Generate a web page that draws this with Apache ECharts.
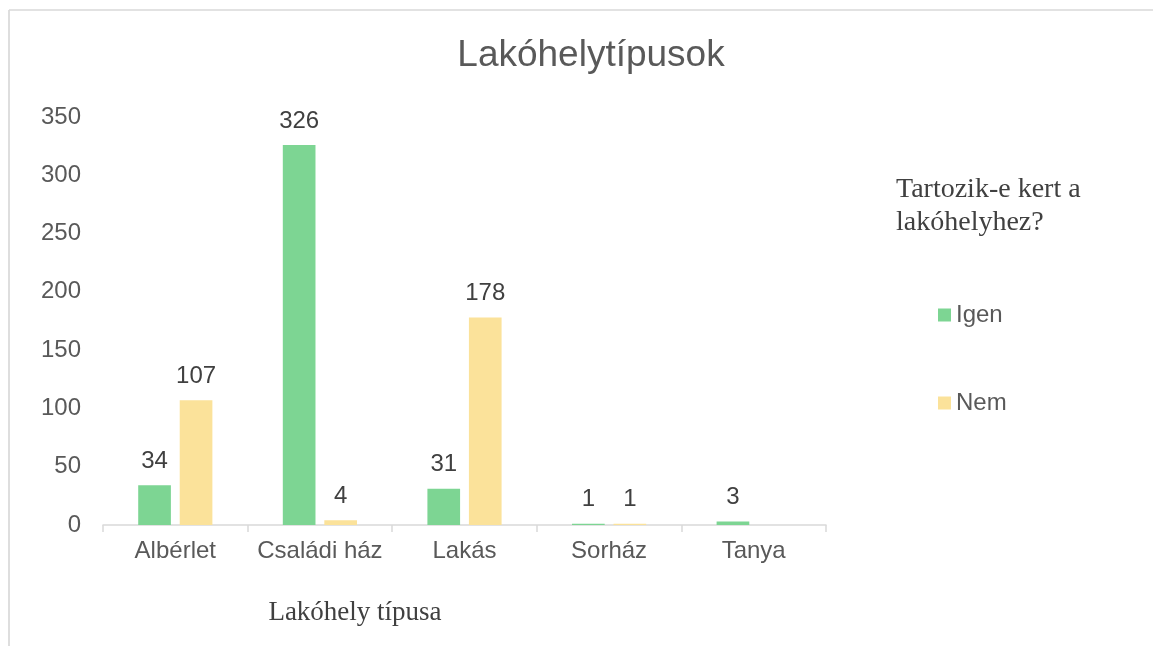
<!DOCTYPE html>
<html>
<head>
<meta charset="utf-8">
<title>Lakóhelytípusok</title>
<script src="https://cdn.jsdelivr.net/npm/echarts@6/dist/echarts.min.js"></script>
<style>
html, body { margin: 0; padding: 0; background: #fff; }
#chart { width: 1153px; height: 646px; }
</style>
</head>
<body>
<div id="chart"></div>
<script>
var categories = ['Albérlet', 'Családi ház', 'Lakás', 'Sorház', 'Tanya'];
var igenValues = [34, 326, 31, 1, 3];
var nemValues = [107, 4, 178, 1, null];
var yTicks = [0, 50, 100, 150, 200, 250, 300, 350];

var sans = 'Arial, "Liberation Sans", sans-serif';
var serif = '"Times New Roman", "Liberation Serif", serif';

var barLabel = {
    show: true,
    position: 'top',
    distance: 12,
    fontFamily: sans,
    fontSize: 24,
    color: '#404040'
};

var option = {
    animation: false,
    backgroundColor: '#fff',
    title: [
        {
            text: 'Lakóhelytípusok',
            left: 586, top: 32, textAlign: 'center',
            textStyle: { fontFamily: sans, fontSize: 37, fontWeight: 'normal', color: '#595959' }
        },
        {
            text: 'Tartozik-e kert a\nlakóhelyhez?',
            left: 891, top: 168,
            textStyle: { fontFamily: serif, fontSize: 28, fontWeight: 'normal', color: '#404040', lineHeight: 33 }
        },
        {
            text: 'Lakóhely típusa',
            left: 350, top: 594, textAlign: 'center',
            textStyle: { fontFamily: serif, fontSize: 27, fontWeight: 'normal', color: '#404040' }
        }
    ],
    legend: {
        orient: 'vertical',
        left: 933, top: 298,
        itemWidth: 13, itemHeight: 13,
        itemGap: 64,
        icon: 'rect',
        data: ['Igen', 'Nem'],
        textStyle: { fontFamily: sans, fontSize: 24, color: '#595959' }
    },
    grid: { left: 103, right: 327, top: 117, bottom: 121, containLabel: false },
    xAxis: {
        type: 'category',
        data: categories,
        axisLine: { lineStyle: { color: '#d9d9d9', width: 1.5 } },
        axisTick: { show: true, length: 7, lineStyle: { color: '#d9d9d9', width: 1.5 } },
        axisLabel: { interval: 0, fontFamily: sans, fontSize: 24, color: '#595959', margin: 14 }
    },
    yAxis: {
        type: 'value',
        min: yTicks[0],
        max: yTicks[yTicks.length - 1],
        interval: 50,
        axisLine: { show: false },
        axisTick: { show: false },
        splitLine: { show: false },
        axisLabel: { fontFamily: sans, fontSize: 24, color: '#595959', margin: 22 }
    },
    series: [
        {
            name: 'Igen', type: 'bar',
            data: igenValues,
            barWidth: '22.6%', barGap: '27%',
            itemStyle: { color: '#7dd593' },
            label: barLabel
        },
        {
            name: 'Nem', type: 'bar',
            data: nemValues,
            barWidth: '22.6%', barGap: '27%',
            itemStyle: { color: '#fbe29a' },
            label: barLabel
        }
    ],
    graphic: [
        { type: 'line', shape: { x1: 9, y1: 10, x2: 1153, y2: 10 }, style: { stroke: '#d9d9d9', lineWidth: 1.7 } },
        { type: 'line', shape: { x1: 9, y1: 10, x2: 9, y2: 646 }, style: { stroke: '#d9d9d9', lineWidth: 1.7 } }
    ]
};

var myChart = echarts.init(document.getElementById('chart'));
myChart.setOption(option);
</script>
</body>
</html>
